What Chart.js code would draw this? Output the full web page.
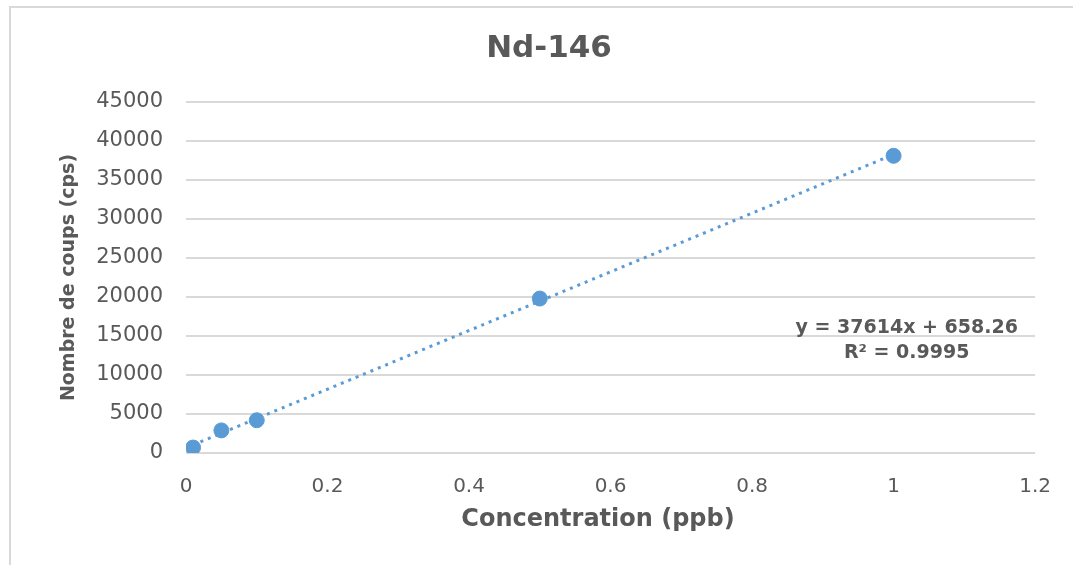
<!DOCTYPE html>
<html>
<head>
<meta charset="utf-8">
<script src="https://cdn.jsdelivr.net/npm/chart.js@4/dist/chart.umd.min.js"></script>
<style>
  html, body { margin: 0; padding: 0; background: #ffffff; }
  #wrap { width: 1073px; height: 565px; position: relative; }
</style>
</head>
<body>
<div id="wrap"><canvas id="c" width="1073" height="565"></canvas></div>
<script>
const chartTitle = "Nd-146";
const xAxisTitle = "Concentration (ppb)";
const yAxisTitle = "Nombre de coups (cps)";
const concentrations = [0.01, 0.05, 0.1, 0.5, 1];
const counts = [700, 2900, 4200, 19800, 38100];
const trendX = [0.01, 1];
const trendY = [1034, 38272];
const equationLines = ["y = 37614x + 658.26", "R² = 0.9995"];
const equationPos = { x: 1.0185, y: [16000, 12800] };
const xTicks = [0, 0.2, 0.4, 0.6, 0.8, 1, 1.2];
const yTicks = [0, 5000, 10000, 15000, 20000, 25000, 30000, 35000, 40000, 45000];

const gray = "#595959";
const blue = "#5B9BD5";
const gridCol = "#D9D9D9";
const FONT = "'DejaVu Sans', sans-serif";

const framePlugin = {
  id: "frame",
  beforeDraw(chart) {
    const ctx = chart.ctx;
    ctx.save();
    ctx.strokeStyle = "#D9D9D9";
    ctx.lineWidth = 2;
    ctx.beginPath();
    ctx.moveTo(10, 565);
    ctx.lineTo(10, 7);
    ctx.lineTo(1073, 7);
    ctx.stroke();
    ctx.fillStyle = gray;
    ctx.textAlign = "center";
    ctx.textBaseline = "middle";
    // chart title
    ctx.font = "bold 31px " + FONT;
    ctx.fillText(chartTitle, 549, 49);
    // x axis title
    ctx.font = "bold 24px " + FONT;
    ctx.fillText(xAxisTitle, 598, 520);
    ctx.restore();
  }
};

const equationPlugin = {
  id: "equation",
  afterDatasetsDraw(chart) {
    const ctx = chart.ctx;
    const xs = chart.scales.x, ys = chart.scales.y;
    ctx.save();
    ctx.fillStyle = gray;
    ctx.font = "bold 19px " + FONT;
    ctx.textAlign = "center";
    ctx.textBaseline = "middle";
    equationLines.forEach((t, i) => {
      ctx.fillText(t, xs.getPixelForValue(equationPos.x), ys.getPixelForValue(equationPos.y[i]));
    });
    ctx.restore();
  }
};

new Chart(document.getElementById("c"), {
  type: "scatter",
  data: {
    datasets: [
      {
        label: "Nd-146",
        data: concentrations.map((x, i) => ({ x, y: counts[i] })),
        backgroundColor: blue,
        borderColor: blue,
        pointRadius: 7.5,
        pointHoverRadius: 7.5,
        order: 1
      },
      {
        label: "Linéaire",
        type: "line",
        data: trendX.map((x, i) => ({ x, y: trendY[i] })),
        borderColor: blue,
        borderWidth: 3,
        borderDash: [3, 5],
        pointRadius: 0,
        fill: false,
        order: 2
      }
    ]
  },
  plugins: [framePlugin, equationPlugin],
  options: {
    responsive: false,
    animation: false,
    devicePixelRatio: 1,
    layout: { padding: { left: 0, right: 35, top: 102, bottom: 0 } },
    plugins: {
      legend: { display: false },
      tooltip: { enabled: false },
      title: { display: false }
    },
    scales: {
      x: {
        type: "linear",
        min: 0,
        max: 1.2,
        afterBuildTicks(scale) { scale.ticks = xTicks.map(v => ({ value: v })); },
        afterFit(scale) { scale.height = 112; },
        grid: { display: false, drawTicks: false },
        border: { display: false },
        ticks: {
          color: gray,
          font: { family: FONT, size: 20 },
          padding: 22,
          maxRotation: 0,
          callback: v => String(v)
        },
        title: { display: false }
      },
      y: {
        type: "linear",
        min: 0,
        max: 45000,
        afterBuildTicks(scale) { scale.ticks = yTicks.map(v => ({ value: v })); },
        afterFit(scale) { scale.width = 186; },
        grid: { color: gridCol, lineWidth: 2, drawTicks: false },
        border: { display: false },
        ticks: {
          color: gray,
          font: { family: FONT, size: 21 },
          padding: 23,
          callback: v => String(v)
        },
        title: {
          display: true,
          text: yAxisTitle,
          color: gray,
          font: { family: FONT, size: 19, weight: "bold", lineHeight: 1.2 },
          padding: { top: 58, bottom: 0 }
        }
      }
    }
  }
});
</script>
</body>
</html>
